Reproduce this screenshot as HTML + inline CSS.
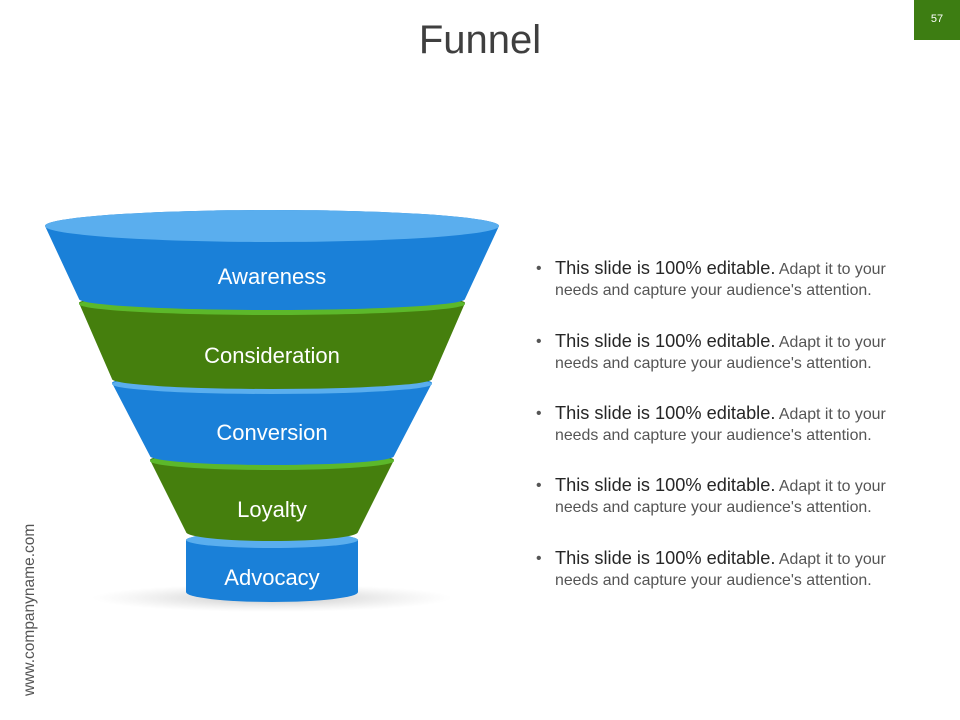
<!DOCTYPE html>
<html><head><meta charset="utf-8"><style>
body{margin:0;width:960px;height:720px;background:#fff;position:relative;overflow:hidden;font-family:"Liberation Sans",sans-serif}
.t{position:absolute;left:0;width:960px;top:18px;text-align:center;font-size:40px;color:#3f3f3f}
.pn{position:absolute;left:914px;top:0;width:46px;height:40px;background:#3d7d12;color:#fff;font-size:11px;text-align:center;line-height:38px}
.v{position:absolute;left:21px;top:696px;transform-origin:0 0;transform:rotate(-90deg);font-size:15.5px;color:#555;white-space:nowrap}
.b{position:absolute;left:536px;font-size:15.9px;color:#555;line-height:21px;width:390px}
.b span.d{position:absolute;left:0;top:0}
.b div{margin-left:19px;width:365px}
.b strong{font-weight:normal;font-size:18.2px;color:#262626}
</style></head><body>
<div class="t">Funnel</div>
<div class="pn">57</div>
<div class="v">www.companyname.com</div>
<svg width="960" height="720" style="position:absolute;left:0;top:0">
<defs><radialGradient id="sh"><stop offset="0" stop-color="#aaa" stop-opacity=".7"/><stop offset="1" stop-color="#ccc" stop-opacity="0"/></radialGradient></defs>
<ellipse cx="272" cy="598" rx="180" ry="14" fill="url(#sh)"/>
<path d="M186,540 L186,592 A86,10 0 0 0 358,592 L358,540 A86,8 0 0 0 186,540Z" fill="#1a80d8"/>
<ellipse cx="272" cy="540" rx="86" ry="8" fill="#5aaeee"/>
<path d="M150,460 L186,532 A86,9 0 0 0 358,532 L394,460 A122,9 0 0 0 150,460Z" fill="#457f0d"/>
<ellipse cx="272" cy="461" rx="122" ry="9" fill="#5cb82a"/>
<path d="M112,383 L150,456 A122,9 0 0 0 394,456 L432,383 A160,10 0 0 0 112,383Z" fill="#1a80d8"/>
<ellipse cx="272" cy="384" rx="160" ry="10" fill="#5aaeee"/>
<path d="M79,303 L112,379 A160,10 0 0 0 432,379 L465,303 A193,11 0 0 0 79,303Z" fill="#457f0d"/>
<ellipse cx="272" cy="304" rx="193" ry="11" fill="#5cb82a"/>
<path d="M45,226 L79,299 A193,11 0 0 0 465,299 L499,226 A227,16 0 0 0 45,226Z" fill="#1a80d8"/>
<ellipse cx="272" cy="226" rx="227" ry="16" fill="#5aaeee"/>
<g font-family="Liberation Sans" font-size="22" fill="#fff" text-anchor="middle">
<text x="272" y="284">Awareness</text>
<text x="272" y="363">Consideration</text>
<text x="272" y="440">Conversion</text>
<text x="272" y="517">Loyalty</text>
<text x="272" y="585">Advocacy</text>
</g>
</svg>
<div class="b" style="top:258px"><span class="d">•</span><div><strong>This slide is 100% editable.</strong> Adapt it to your needs and capture your audience's attention.</div></div>
<div class="b" style="top:331px"><span class="d">•</span><div><strong>This slide is 100% editable.</strong> Adapt it to your needs and capture your audience's attention.</div></div>
<div class="b" style="top:403px"><span class="d">•</span><div><strong>This slide is 100% editable.</strong> Adapt it to your needs and capture your audience's attention.</div></div>
<div class="b" style="top:475px"><span class="d">•</span><div><strong>This slide is 100% editable.</strong> Adapt it to your needs and capture your audience's attention.</div></div>
<div class="b" style="top:548px"><span class="d">•</span><div><strong>This slide is 100% editable.</strong> Adapt it to your needs and capture your audience's attention.</div></div>
</body></html>
